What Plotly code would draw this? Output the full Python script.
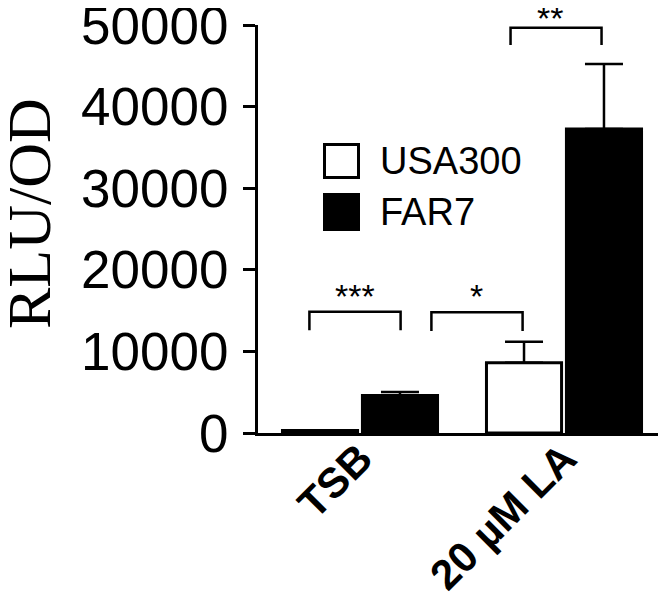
import plotly.graph_objects as go

categories = ["TSB", "20 µM LA"]
series_names = ["USA300", "FAR7"]
usa300_vals = [300, 8600]
usa300_err = [None, 2570]
far7_vals = [4600, 37250]
far7_err = [420, 7970]
y_ticks = [0, 10000, 20000, 30000, 40000, 50000]

# significance brackets: (x left, x right, leg bottom, top, label)
brackets = [
    (-0.248, 0.199, 12600, 14850, "***"),
    (0.350, 0.797, 12500, 14800, "*"),
    (0.738, 1.184, 47550, 49650, "**"),
]

# the page body has an 8px margin, so the figure is drawn 8px smaller
OFF = 8
W, H = 666 - OFF, 599 - OFF
L, R, T, B = 258, 666, 25, 433  # plot area in screen pixels


def px(x):
    return (x - L) / (R - L)


def py(y):
    return (B - y) / (B - T)


fig = go.Figure()
fig.add_trace(go.Bar(
    x=[0, 1], y=usa300_vals, name=series_names[0],
    marker=dict(color="white", line=dict(color="black", width=3)),
    error_y=dict(type="data", array=usa300_err, arrayminus=[0, 0], symmetric=False,
                 color="black", thickness=2.5, width=19),
))
fig.add_trace(go.Bar(
    x=[0, 1], y=far7_vals, name=series_names[1],
    marker=dict(color="black", line=dict(color="black", width=3)),
    error_y=dict(type="data", array=far7_err, arrayminus=[0, 0], symmetric=False,
                 color="black", thickness=2.5, width=19),
))

shapes = []
annotations = []
for x0, x1, yb, yt, lab in brackets:
    shapes.append(dict(type="path", xref="x", yref="y",
                       path=f"M {x0},{yb} L {x0},{yt} L {x1},{yt} L {x1},{yb}",
                       line=dict(color="black", width=2.5)))
    top_row = yt > 40000
    annotations.append(dict(x=(x0 + x1) / 2 - (0.03 if top_row else 0),
                            y=yt - (1400 if top_row else 600),
                            xref="x", yref="y", text=lab, showarrow=False,
                            yanchor="bottom",
                            font=dict(family="Liberation Sans", size=34, color="black")))

# legend drawn by hand so the keys can be large
legend_rows = [(143, 179, "white"), (193, 231, "black")]
for (y0, y1, col), name in zip(legend_rows, series_names):
    shapes.append(dict(type="rect", xref="paper", yref="paper",
                       x0=px(324.5), x1=px(358.5), y0=py(y1 - 1.5), y1=py(y0 + 1.5),
                       fillcolor=col, line=dict(color="black", width=3)))
    annotations.append(dict(x=px(378), y=py((y0 + y1) / 2), xref="paper", yref="paper",
                            text=name, showarrow=False, xanchor="left", yanchor="middle",
                            font=dict(family="Liberation Sans", size=38, color="black")))

annotations.append(dict(x=px(29), y=py(214), xref="paper", yref="paper", text="RLU/OD",
                        textangle=-90, showarrow=False, xanchor="center", yanchor="middle",
                        font=dict(family="Liberation Serif", size=62, color="black")))

fig.update_layout(
    width=W, height=H,
    margin=dict(l=L - OFF, r=0, t=T - OFF, b=H - (B - OFF), pad=0),
    paper_bgcolor="white", plot_bgcolor="white",
    barmode="group", bargap=0.216, bargroupgap=0.061,
    showlegend=False,
    shapes=shapes, annotations=annotations,
    xaxis=dict(range=[-0.5, 1.5], tickvals=[0, 1], ticktext=categories, tickangle=-45,
               showline=True, linewidth=3, linecolor="black", ticks="",
               showgrid=False, zeroline=False, automargin=False,
               ticklabelstandoff=-19, ticklabeloverflow="allow",
               tickfont=dict(family="Liberation Sans", size=42, color="black", weight="bold")),
    yaxis=dict(range=[0, 50000], tickvals=y_ticks, tickformat="d",
               showline=True, linewidth=3, linecolor="black",
               ticks="outside", ticklen=12, tickwidth=3, tickcolor="black",
               ticklabelstandoff=4, automargin=False, ticklabeloverflow="allow",
               showgrid=False, zeroline=False,
               tickfont=dict(family="Liberation Sans", size=53, color="black")),
)

fig.write_html("out.html")
